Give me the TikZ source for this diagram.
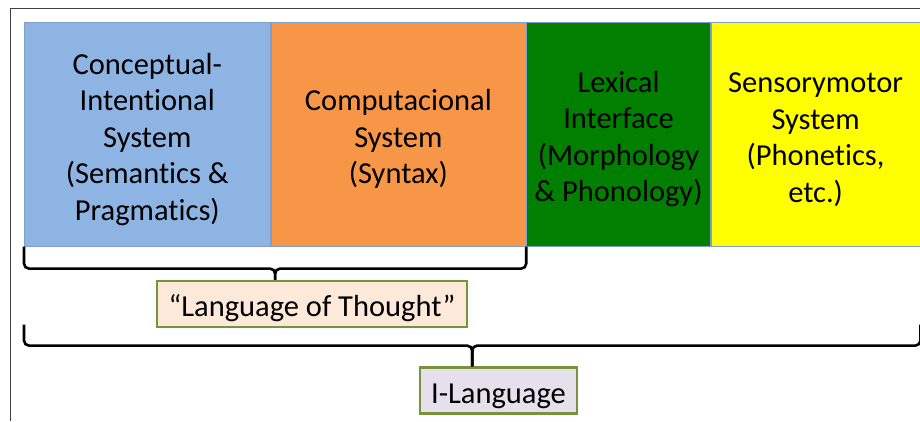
\documentclass[tikz,border=0pt]{standalone}
\usepackage{fontspec}
\setmainfont[Ligatures={NoCommon}]{Carlito}
\usetikzlibrary{positioning,calc}
\usepackage{xcolor}

\definecolor{ciblue}{HTML}{8EB4E3}
\definecolor{csorange}{HTML}{F79646}
\definecolor{lxgreen}{HTML}{007F00}
\definecolor{smyellow}{HTML}{FFFF00}
\definecolor{edgeblue}{HTML}{7F9FC8}
\definecolor{tagline}{HTML}{77933C}
\definecolor{lotfill}{HTML}{FDE9D9}
\definecolor{ilfill}{HTML}{E5E0EC}
\definecolor{framegray}{HTML}{404040}

% pushes the text block of a system box down a little
\newcommand{\sysgap}{\rule{0pt}{31pt}}

\begin{document}
\begin{tikzpicture}[x=1pt, y=-1pt, font=\fontsize{30.5}{36.5}\selectfont,
  sysbox/.style={draw=edgeblue, line width=0.6pt, minimum height=224pt,
    align=center, inner sep=0pt},
  tagbox/.style={draw=tagline, line width=2.4pt, minimum height=46pt,
    inner sep=0pt, text height=25pt, text depth=0pt},
  bracket/.style={line width=2.6pt, rounded corners=5pt}]

\useasboundingbox (0,0) rectangle (920,421);

% Outer frame (only top and left visible)
\draw[framegray, line width=1.2pt] (920,8.5) -- (10.5,8.5) -- (10.5,421);

% The four systems, side by side
\node[sysbox, fill=ciblue, minimum width=246pt, anchor=north west] (ci) at (24,22)
  {\sysgap Conceptual-\\Intentional\\System\\(Semantics \&\\Pragmatics)};
\node[sysbox, fill=csorange, minimum width=255pt, right=0pt of ci] (cs)
  {\sysgap Computacional\\System\\(Syntax)};
\node[sysbox, fill=lxgreen, minimum width=184pt, right=0pt of cs] (lx)
  {\sysgap Lexical\\Interface\\(Morphology\\\& Phonology)};
\node[sysbox, fill=smyellow, minimum width=209pt, right=0pt of lx] (sm)
  {\sysgap Sensorymotor\\System\\(Phonetics,\\etc.)};

% Label boxes
\node[tagbox, fill=lotfill, minimum width=310pt] (lot) at (312,304) {“Language of Thought”};
\node[tagbox, fill=ilfill, minimum width=157pt] (il) at (498.5,390.5) {I-Language};

% Brace over CI + CS
\coordinate (lotMid) at ($(ci.south west)!.5!(cs.south east)$);
\draw[bracket] (ci.south west) -- ++(0,22) -| (lotMid |- lot.north);
\draw[bracket] (cs.south east) -- ++(0,22) -| (lotMid |- lot.north);

% Brace over everything
\coordinate (ilL) at ($(ci.south west)+(0,78)$);
\coordinate (ilR) at ($(sm.south east)+(0,78)$);
\coordinate (ilMid) at ($(ilL)!.5!(ilR)$);
\draw[bracket] (ilL) -- ++(0,21) -| (ilMid |- il.north);
\draw[bracket] (ilR) -- ++(0,21) -| (ilMid |- il.north);

\end{tikzpicture}
\end{document}
